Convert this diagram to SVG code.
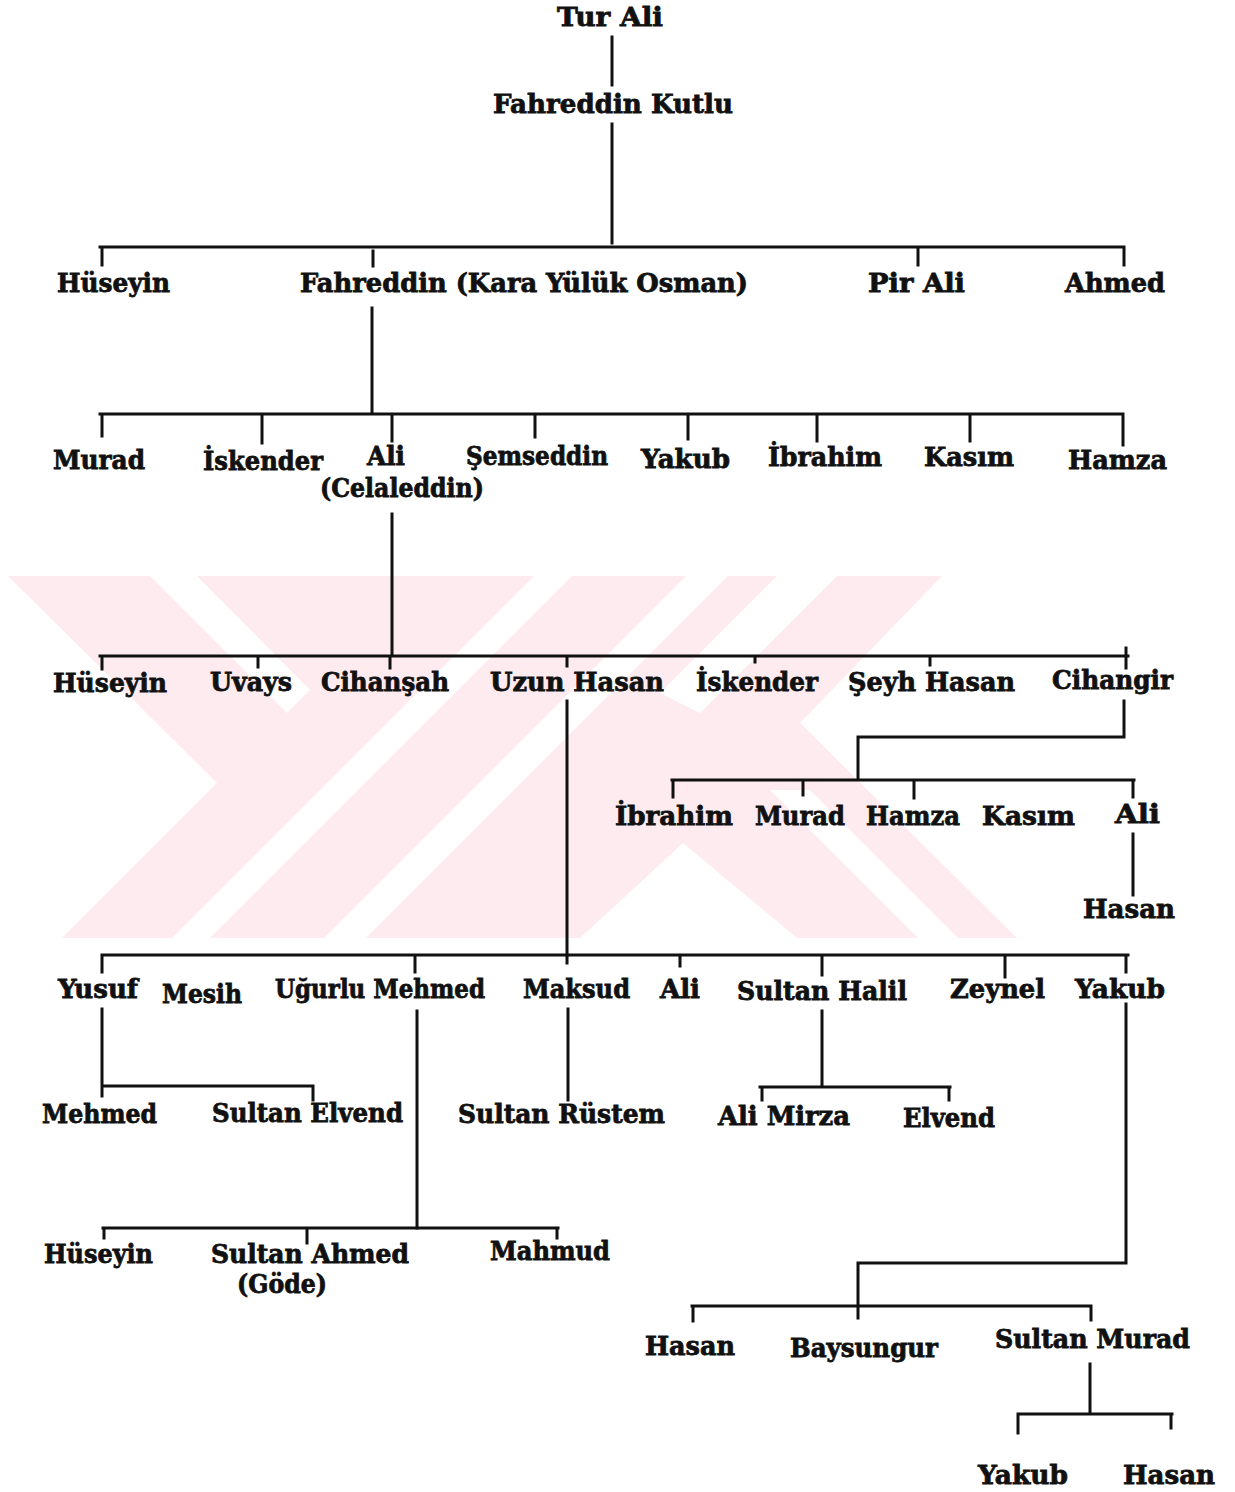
<svg xmlns="http://www.w3.org/2000/svg" width="1235" height="1492" viewBox="0 0 1235 1492">
<defs>
<style>
.t{font-family:"DejaVu Serif","Liberation Serif",serif;font-weight:bold;font-size:26px;fill:#111;stroke:#111;stroke-width:0.8;}
.c path{stroke:#111;stroke-width:3;fill:none;stroke-linecap:square;}
.wm .p{fill:#fdebef;}
.wm .w{fill:#fff;}
</style>
</defs>
<rect width="1235" height="1492" fill="#fff"/>
<g class="wm" id="watermark">
<polygon class="p" points="8,576 942,576 800,723 1017,938 62,938 217,783"/>
<polygon class="w" points="150,576 197,576 310,690 287,713"/>
<polygon class="w" points="534,576 572,576 210,938 172,938"/>
<polygon class="w" points="686,576 728,576 366,938 324,938"/>
<polygon class="w" points="777,576 837,576 700,713 660,693"/>
<polygon class="w" points="683,843 797,938 580,938"/>
<polygon class="w" points="770,790 810,790 958,938 918,938"/>
</g>
<g class="c" id="connectors">
<path d="M612,37V85"/>
<path d="M612,124V243"/>
<path d="M100,247H1124M102,247V265M373,251V266M918,247V265M1124,247V265"/>
<path d="M372,308V413"/>
<path d="M100,414H1123M102,414V436M262,414V443M392,414V441M535,416V437M688,416V439M817,416V441M970,416V441M1123,414V445"/>
<path d="M392,514V655"/>
<path d="M100,656H1128M102,656V669M258,656V667M390,656V668M567,656V666M755,656V662M930,656V665M1126,648V668"/>
<path d="M567,701V955"/>
<path d="M1124,701V737H858V779"/>
<path d="M672,780H1134M673,780V797M803,780V795M914,780V798M1133,780V797"/>
<path d="M1133,834V895"/>
<path d="M102,955H1128M102,955V972M415,955V972M567,955V963M680,955V966M822,955V975M1005,955V977M1126,955V972"/>
<path d="M102,1009V1086H313V1100M102,1086V1096"/>
<path d="M417,1011V1228"/>
<path d="M103,1228H558M104,1228V1238M307,1228V1243M557,1228V1238"/>
<path d="M568,1009V1100"/>
<path d="M822,1011V1086M760,1087H950M762,1087V1100M949,1087V1100"/>
<path d="M1126,1004V1263H858V1318"/>
<path d="M692,1306H1091M693,1306V1321M1091,1306V1320"/>
<path d="M1090,1364V1413M1018,1414H1172M1018,1414V1433M1171,1414V1428"/>
</g>
<g id="n-tur-ali"><text class="t" x="557" y="26" textLength="106" lengthAdjust="spacingAndGlyphs">Tur Ali</text></g>
<g id="n-fahreddin-kutlu"><text class="t" x="493" y="113" textLength="240" lengthAdjust="spacingAndGlyphs">Fahreddin Kutlu</text></g>
<g id="n-huseyin-1"><text class="t" x="57" y="292" textLength="113" lengthAdjust="spacingAndGlyphs">Hüseyin</text></g>
<g id="n-fahreddin-osman"><text class="t" x="300" y="292" textLength="448" lengthAdjust="spacingAndGlyphs">Fahreddin (Kara Yülük Osman)</text></g>
<g id="n-pir-ali"><text class="t" x="868" y="292" textLength="97" lengthAdjust="spacingAndGlyphs">Pir Ali</text></g>
<g id="n-ahmed"><text class="t" x="1065" y="292" textLength="100" lengthAdjust="spacingAndGlyphs">Ahmed</text></g>
<g id="n-murad-1"><text class="t" x="53" y="469" textLength="92" lengthAdjust="spacingAndGlyphs">Murad</text></g>
<g id="n-iskender-1"><text class="t" x="203" y="470" textLength="120" lengthAdjust="spacingAndGlyphs">İskender</text></g>
<g id="n-ali-celaleddin"><text class="t" x="367" y="465" textLength="38" lengthAdjust="spacingAndGlyphs">Ali</text><text class="t" x="320" y="497" textLength="164" lengthAdjust="spacingAndGlyphs">(Celaleddin)</text></g>
<g id="n-semseddin"><text class="t" x="466" y="465" textLength="142" lengthAdjust="spacingAndGlyphs">Şemseddin</text></g>
<g id="n-yakub-1"><text class="t" x="641" y="468" textLength="89" lengthAdjust="spacingAndGlyphs">Yakub</text></g>
<g id="n-ibrahim-1"><text class="t" x="768" y="466" textLength="114" lengthAdjust="spacingAndGlyphs">İbrahim</text></g>
<g id="n-kasim-1"><text class="t" x="924" y="466" textLength="90" lengthAdjust="spacingAndGlyphs">Kasım</text></g>
<g id="n-hamza-1"><text class="t" x="1068" y="469" textLength="99" lengthAdjust="spacingAndGlyphs">Hamza</text></g>
<g id="n-huseyin-2"><text class="t" x="53" y="692" textLength="114" lengthAdjust="spacingAndGlyphs">Hüseyin</text></g>
<g id="n-uvays"><text class="t" x="210" y="691" textLength="82" lengthAdjust="spacingAndGlyphs">Uvays</text></g>
<g id="n-cihansah"><text class="t" x="321" y="691" textLength="128" lengthAdjust="spacingAndGlyphs">Cihanşah</text></g>
<g id="n-uzun-hasan"><text class="t" x="490" y="691" textLength="174" lengthAdjust="spacingAndGlyphs">Uzun Hasan</text></g>
<g id="n-iskender-2"><text class="t" x="696" y="691" textLength="122" lengthAdjust="spacingAndGlyphs">İskender</text></g>
<g id="n-seyh-hasan"><text class="t" x="848" y="691" textLength="167" lengthAdjust="spacingAndGlyphs">Şeyh Hasan</text></g>
<g id="n-cihangir"><text class="t" x="1052" y="689" textLength="121" lengthAdjust="spacingAndGlyphs">Cihangir</text></g>
<g id="n-ibrahim-2"><text class="t" x="615" y="825" textLength="118" lengthAdjust="spacingAndGlyphs">İbrahim</text></g>
<g id="n-murad-2"><text class="t" x="755" y="825" textLength="90" lengthAdjust="spacingAndGlyphs">Murad</text></g>
<g id="n-hamza-2"><text class="t" x="866" y="825" textLength="94" lengthAdjust="spacingAndGlyphs">Hamza</text></g>
<g id="n-kasim-2"><text class="t" x="982" y="825" textLength="93" lengthAdjust="spacingAndGlyphs">Kasım</text></g>
<g id="n-ali-2"><text class="t" x="1115" y="823" textLength="45" lengthAdjust="spacingAndGlyphs">Ali</text></g>
<g id="n-hasan-1"><text class="t" x="1083" y="918" textLength="92" lengthAdjust="spacingAndGlyphs">Hasan</text></g>
<g id="n-yusuf"><text class="t" x="58" y="998" textLength="80" lengthAdjust="spacingAndGlyphs">Yusuf</text></g>
<g id="n-mesih"><text class="t" x="162" y="1003" textLength="80" lengthAdjust="spacingAndGlyphs">Mesih</text></g>
<g id="n-ugurlu-mehmed"><text class="t" x="275" y="998" textLength="210" lengthAdjust="spacingAndGlyphs">Uğurlu Mehmed</text></g>
<g id="n-maksud"><text class="t" x="523" y="998" textLength="107" lengthAdjust="spacingAndGlyphs">Maksud</text></g>
<g id="n-ali-3"><text class="t" x="660" y="998" textLength="40" lengthAdjust="spacingAndGlyphs">Ali</text></g>
<g id="n-sultan-halil"><text class="t" x="737" y="1000" textLength="170" lengthAdjust="spacingAndGlyphs">Sultan Halil</text></g>
<g id="n-zeynel"><text class="t" x="950" y="998" textLength="95" lengthAdjust="spacingAndGlyphs">Zeynel</text></g>
<g id="n-yakub-2"><text class="t" x="1075" y="998" textLength="90" lengthAdjust="spacingAndGlyphs">Yakub</text></g>
<g id="n-mehmed"><text class="t" x="42" y="1123" textLength="115" lengthAdjust="spacingAndGlyphs">Mehmed</text></g>
<g id="n-sultan-elvend"><text class="t" x="212" y="1122" textLength="191" lengthAdjust="spacingAndGlyphs">Sultan Elvend</text></g>
<g id="n-sultan-rustem"><text class="t" x="458" y="1123" textLength="207" lengthAdjust="spacingAndGlyphs">Sultan Rüstem</text></g>
<g id="n-ali-mirza"><text class="t" x="718" y="1125" textLength="132" lengthAdjust="spacingAndGlyphs">Ali Mirza</text></g>
<g id="n-elvend"><text class="t" x="903" y="1127" textLength="92" lengthAdjust="spacingAndGlyphs">Elvend</text></g>
<g id="n-huseyin-3"><text class="t" x="44" y="1263" textLength="109" lengthAdjust="spacingAndGlyphs">Hüseyin</text></g>
<g id="n-sultan-ahmed"><text class="t" x="211" y="1263" textLength="198" lengthAdjust="spacingAndGlyphs">Sultan Ahmed</text><text class="t" x="237" y="1293" textLength="90" lengthAdjust="spacingAndGlyphs">(Göde)</text></g>
<g id="n-mahmud"><text class="t" x="490" y="1260" textLength="120" lengthAdjust="spacingAndGlyphs">Mahmud</text></g>
<g id="n-hasan-2"><text class="t" x="645" y="1355" textLength="90" lengthAdjust="spacingAndGlyphs">Hasan</text></g>
<g id="n-baysungur"><text class="t" x="790" y="1357" textLength="148" lengthAdjust="spacingAndGlyphs">Baysungur</text></g>
<g id="n-sultan-murad"><text class="t" x="995" y="1348" textLength="195" lengthAdjust="spacingAndGlyphs">Sultan Murad</text></g>
<g id="n-yakub-3"><text class="t" x="978" y="1484" textLength="90" lengthAdjust="spacingAndGlyphs">Yakub</text></g>
<g id="n-hasan-3"><text class="t" x="1123" y="1484" textLength="92" lengthAdjust="spacingAndGlyphs">Hasan</text></g>
</svg>
